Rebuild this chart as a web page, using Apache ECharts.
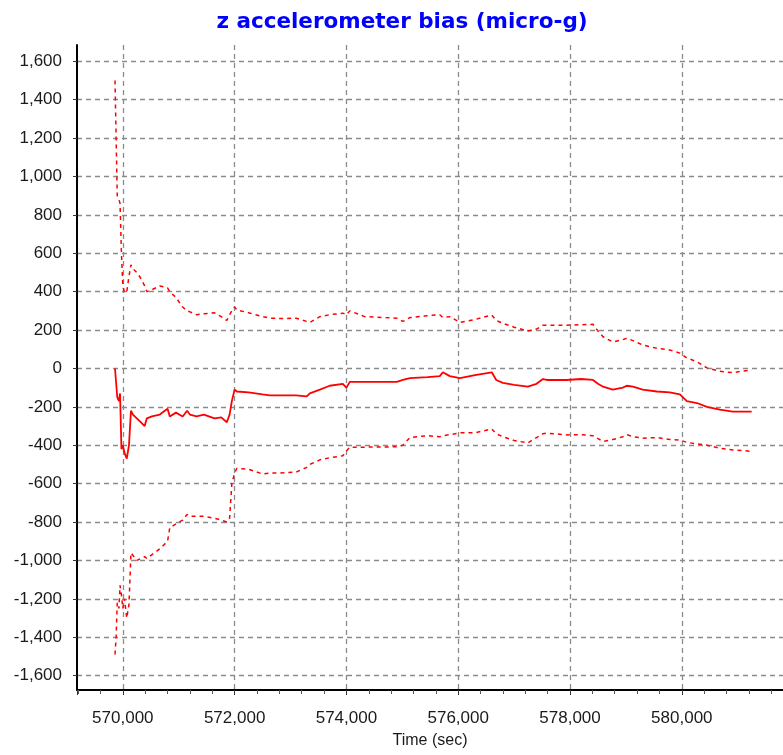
<!DOCTYPE html>
<html>
<head>
<meta charset="utf-8">
<script src="https://cdn.jsdelivr.net/npm/echarts@6/dist/echarts.min.js"></script>
<style>html,body{margin:0;padding:0;background:#fff}#c{width:783px;height:755px}</style>
</head>
<body>
<div id="c"></div>
<script>
const titleText = 'z accelerometer bias (micro-g)';
const xAxisName = 'Time (sec)';
const timeSec = [569860,569880,569900,569930,569950,569975,570000,570030,570070,570110,570145,570180,570250,570320,570390,570430,570520,570660,570800,570840,570950,571070,571150,571200,571320,571450,571640,571760,571860,571910,571950,572000,572040,572250,572500,572630,572810,573100,573290,573345,573525,573700,573935,574000,574060,574330,574900,575010,575135,575450,575670,575725,575850,576030,576300,576600,576680,576800,577000,577245,577400,577515,577585,577940,578200,578410,578500,578590,578765,578945,579015,579125,579300,579555,579785,579965,580090,580270,580450,580680,580910,581180,581250];
const biasMid = [0,-10,-150,-170,-130,-420,-400,-440,-470,-400,-220,-240,-260,-280,-300,-260,-250,-240,-210,-250,-230,-250,-220,-240,-250,-240,-260,-255,-280,-240,-170,-110,-120,-125,-135,-140,-140,-140,-145,-130,-110,-90,-80,-100,-70,-70,-70,-60,-50,-45,-40,-20,-40,-50,-35,-20,-60,-75,-85,-95,-80,-55,-60,-60,-55,-60,-80,-95,-110,-100,-90,-95,-110,-120,-125,-135,-170,-180,-200,-215,-225,-225,-225];
const biasUpper = [1500,1200,900,880,860,600,430,395,400,480,540,520,500,470,430,400,410,430,420,400,370,320,300,295,280,285,290,270,250,280,300,320,305,290,270,262,260,262,245,240,270,280,288,280,300,270,262,245,265,275,280,265,270,240,255,278,250,235,215,195,205,225,225,225,228,230,195,165,138,150,158,145,122,105,96,80,55,35,3,-15,-22,-10,-8];
const biasLower = [-1490,-1400,-1220,-1250,-1130,-1180,-1250,-1200,-1300,-1230,-960,-970,-1000,-990,-980,-990,-970,-940,-900,-830,-810,-790,-760,-770,-770,-770,-780,-790,-800,-780,-600,-545,-520,-525,-550,-545,-545,-540,-515,-500,-476,-465,-455,-430,-410,-410,-408,-400,-360,-350,-356,-350,-345,-335,-335,-315,-340,-356,-375,-388,-360,-340,-337,-346,-345,-350,-365,-380,-370,-356,-345,-355,-363,-360,-370,-373,-385,-393,-400,-415,-425,-430,-435];

const pair = arr => timeSec.map((t, i) => [t, arr[i]]);
const fmt = v => Math.round(v).toLocaleString('en-US');
const font = 'Liberation Sans, Arial, sans-serif';
const gridStyle = {color: '#8a8a8a', type: [5, 4], width: 1.3};

const chart = echarts.init(document.getElementById('c'), null, {renderer: 'canvas'});
chart.setOption({
  animation: false,
  backgroundColor: '#ffffff',
  title: {
    text: titleText, left: 397, top: 6, textAlign: 'center',
    textStyle: {color: '#0000ff', fontSize: 21.5, fontWeight: 'bold', fontFamily: 'DejaVu Sans, sans-serif'}
  },
  grid: {left: 77, top: 45, bottom: 65, right: 0, containLabel: false},
  xAxis: {
    type: 'value', min: 569180, max: 581810, splitNumber: 6,
    name: xAxisName, nameLocation: 'middle', nameGap: 43,
    nameTextStyle: {color: '#1a1a1a', fontSize: 16, fontFamily: font},
    axisLine: {show: true, onZero: false, lineStyle: {color: '#000', width: 2}},
    axisTick: {show: true, length: 5, lineStyle: {color: '#333'}},
    minorTick: {show: true, splitNumber: 5, length: 4, lineStyle: {color: '#555'}},
    axisLabel: {
      color: '#1a1a1a', fontSize: 17, fontFamily: font, margin: 20,
      showMinLabel: false, showMaxLabel: false,
      formatter: v => (v % 2000 === 0 ? fmt(v) : '')
    },
    splitLine: {show: true, showMinLine: false, showMaxLine: false, lineStyle: gridStyle}
  },
  yAxis: {
    type: 'value', min: -1675, max: 1685, splitNumber: 17,
    axisLine: {show: true, onZero: false, lineStyle: {color: '#000', width: 2}},
    axisTick: {show: true, length: 4, lineStyle: {color: '#333'}},
    axisLabel: {
      color: '#1a1a1a', fontSize: 17, fontFamily: font, margin: 15,
      showMinLabel: false, showMaxLabel: false,
      formatter: v => (v % 200 === 0 ? fmt(v) : '')
    },
    splitLine: {show: true, showMinLine: false, showMaxLine: false, lineStyle: gridStyle}
  },
  series: [
    {type: 'line', name: 'upper', data: pair(biasUpper), symbol: 'none',
      lineStyle: {color: '#ff0000', width: 1.5, type: [4, 4]}},
    {type: 'line', name: 'bias', data: pair(biasMid), symbol: 'none',
      lineStyle: {color: '#ff0000', width: 1.8}},
    {type: 'line', name: 'lower', data: pair(biasLower), symbol: 'none',
      lineStyle: {color: '#ff0000', width: 1.5, type: [4, 4]}}
  ]
});
</script>
</body>
</html>
